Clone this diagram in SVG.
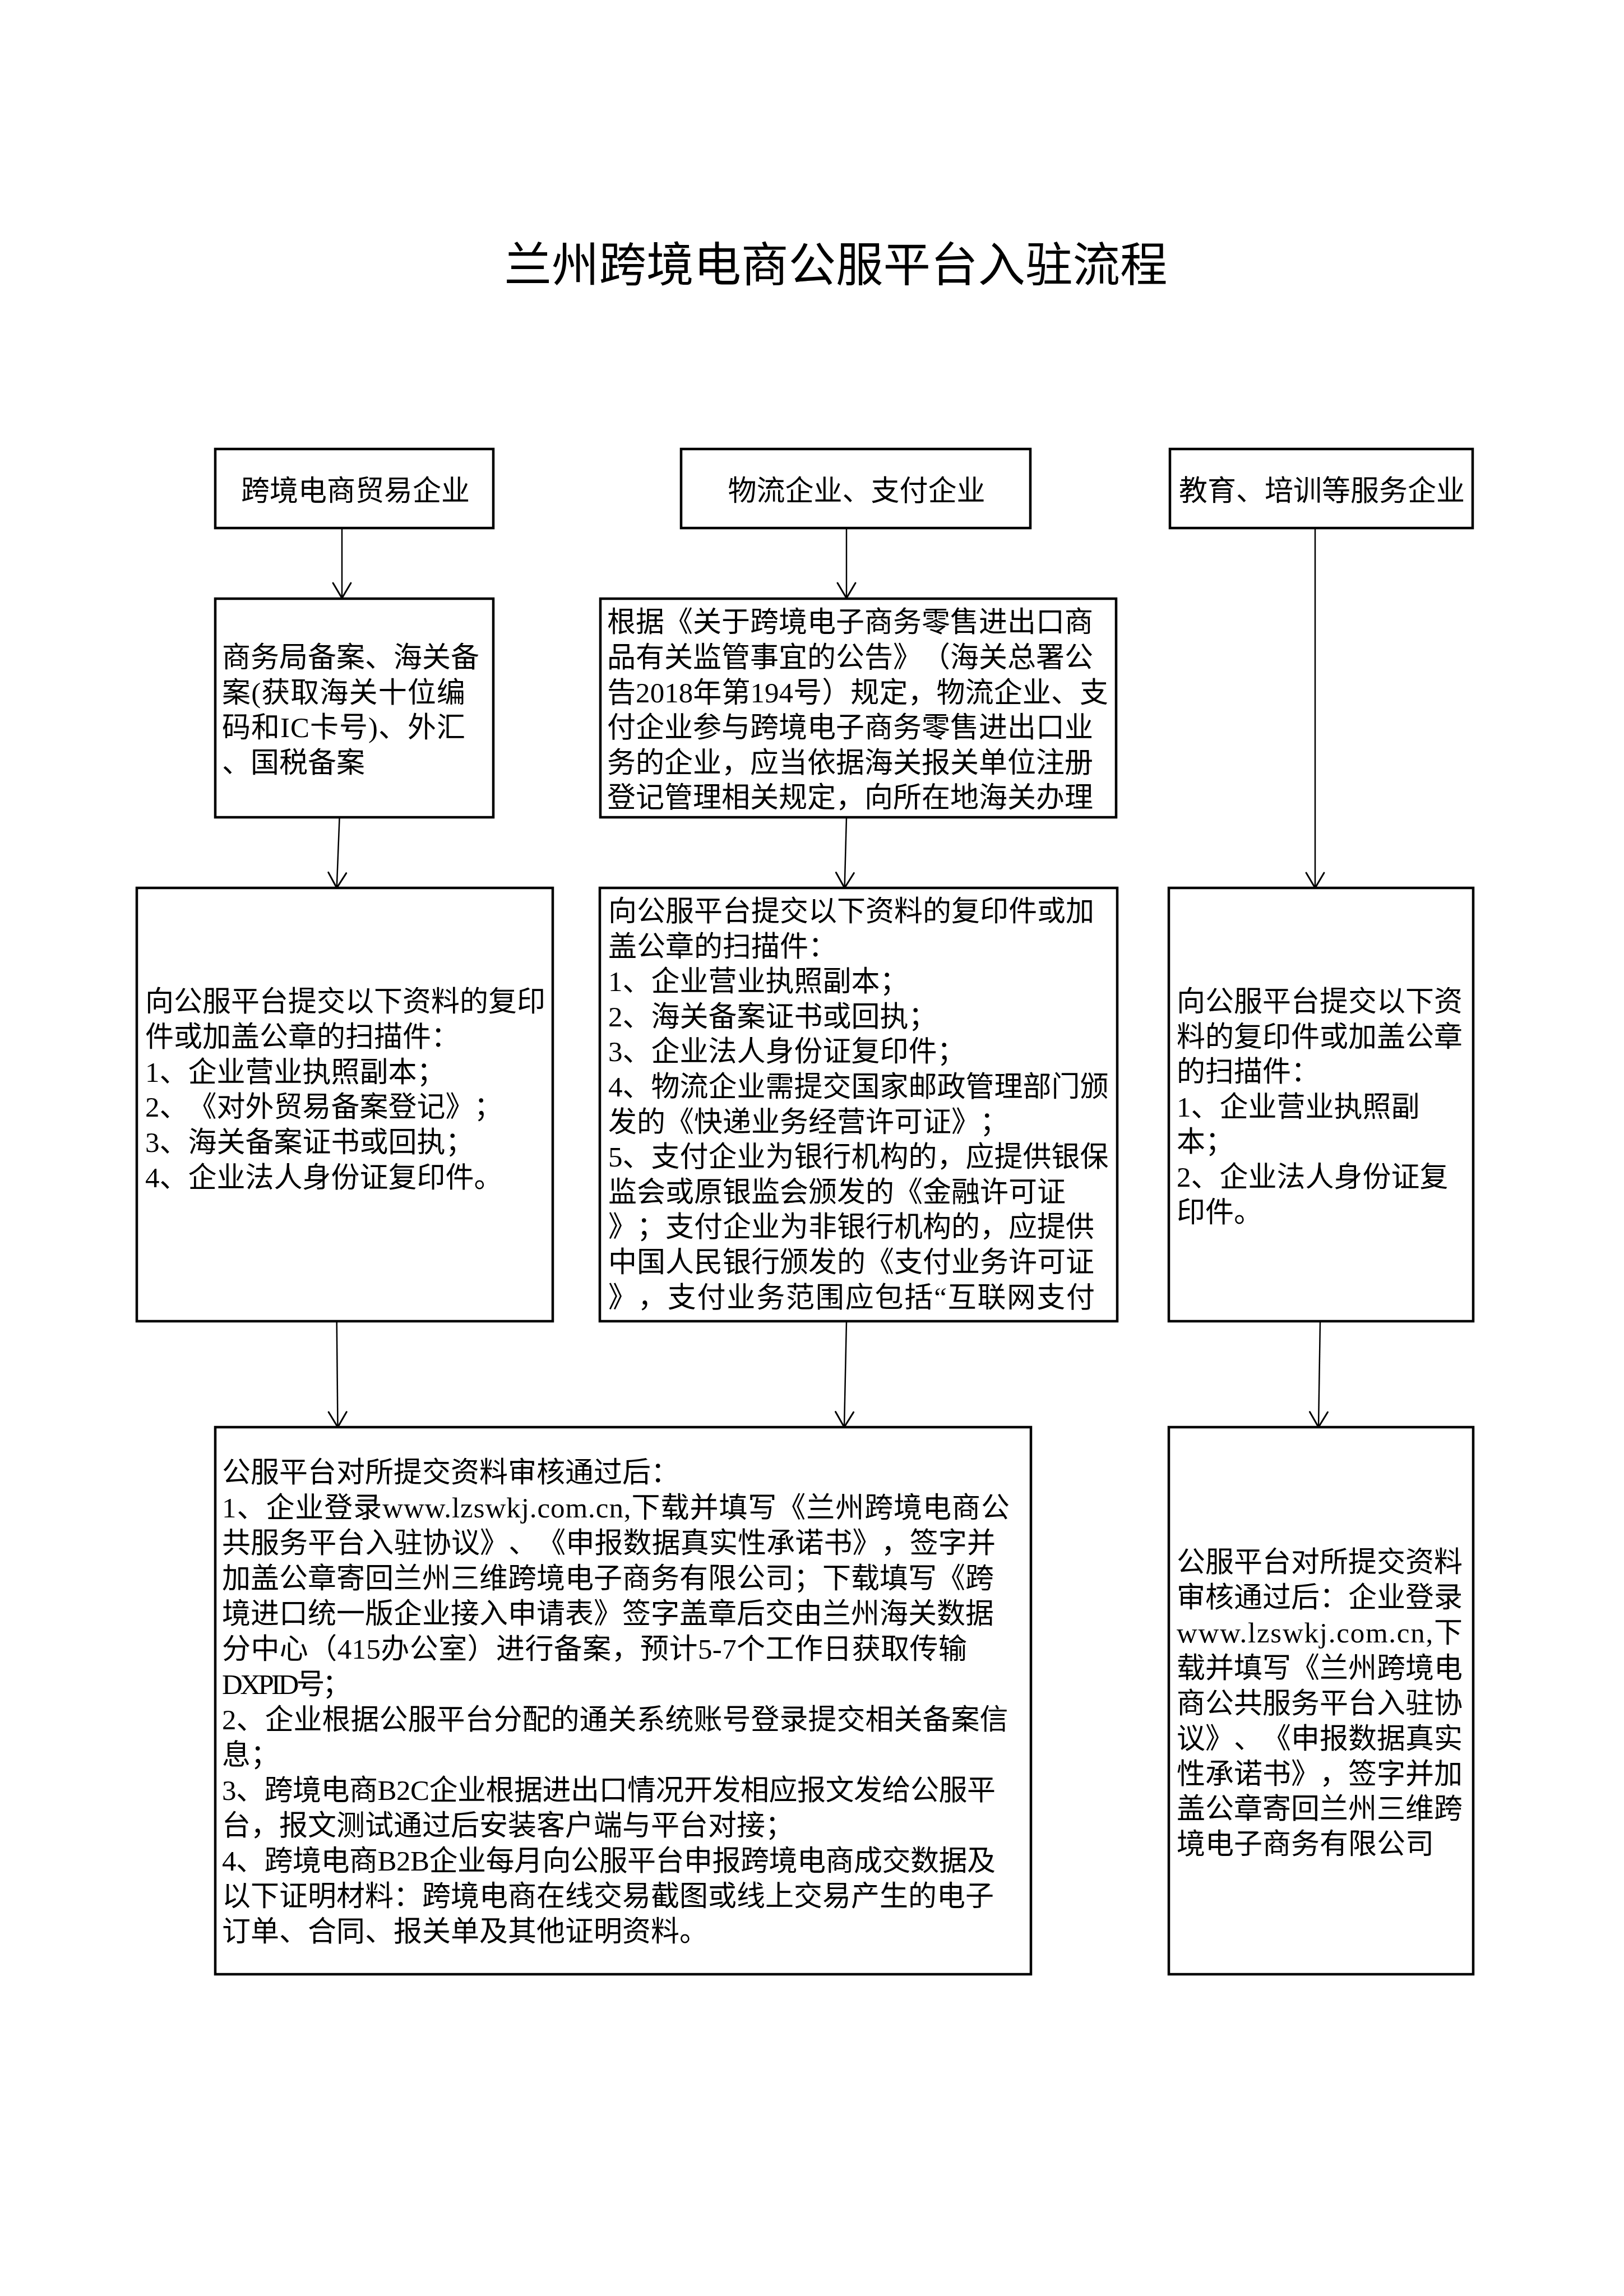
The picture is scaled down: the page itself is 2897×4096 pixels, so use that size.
<svg xmlns="http://www.w3.org/2000/svg" width="2897" height="4096" viewBox="0 0 2897 4096">
<style>
.box{fill:#fff;stroke:#000;stroke-width:4.5}
.t{font-family:'Liberation Serif','Noto Sans CJK SC',serif;font-size:51px;fill:#000;text-spacing-trim:space-all}
.c{text-anchor:middle}
.title{font-family:'Liberation Serif','Noto Sans CJK SC',serif;font-size:84.5px;fill:#000;text-anchor:middle;text-spacing-trim:space-all}
.conn{stroke:#000;stroke-width:2.5;fill:none;marker-end:url(#arr)}
</style>
<defs>
<marker id="arr" markerUnits="userSpaceOnUse" markerWidth="40" markerHeight="40" viewBox="-30 -20 40 40" refX="0" refY="0" orient="auto" overflow="visible">
<path d="M -27 -16 L 0 0 L -27 16" fill="none" stroke="#000" stroke-width="3" stroke-linecap="round"/>
</marker>
</defs>
<rect width="2897" height="4096" fill="#fff"/>
<text class="title" x="1491" y="502">兰州跨境电商公服平台入驻流程</text>

<g id="connectors">
<line class="conn" x1="610" y1="942" x2="610" y2="1067"/>
<line class="conn" x1="1510" y1="942" x2="1510" y2="1067"/>
<line class="conn" x1="2346" y1="942" x2="2346" y2="1584"/>
<line class="conn" x1="605.6" y1="1458" x2="600.7" y2="1584"/>
<line class="conn" x1="1510" y1="1458" x2="1506.6" y2="1584"/>
<line class="conn" x1="600.7" y1="2357" x2="602.5" y2="2546"/>
<line class="conn" x1="1510" y1="2357" x2="1506" y2="2546"/>
<line class="conn" x1="2355" y1="2357" x2="2352" y2="2546"/>
</g>

<g id="n-trade">
<rect class="box" x="384" y="801" width="496" height="141"/>
<text class="t c" x="634" y="893">跨境电商贸易企业</text>
</g>
<g id="n-logistics">
<rect class="box" x="1215" y="801" width="623" height="141"/>
<text class="t c" x="1528" y="893">物流企业、支付企业</text>
</g>
<g id="n-edu">
<rect class="box" x="2087" y="801" width="540" height="141"/>
<text class="t c" x="2358" y="893">教育、培训等服务企业</text>
</g>

<g id="n-record">
<rect class="box" x="384" y="1068" width="496" height="390"/>
<text class="t" x="396" y="1190">商务局备案、海关备</text>
<text class="t" x="396" y="1253" textLength="434" lengthAdjust="spacing">案(获取海关十位编</text>
<text class="t" x="396" y="1315" textLength="434" lengthAdjust="spacing">码和IC卡号)、外汇</text>
<text class="t" x="396" y="1378">、国税备案</text>
</g>

<g id="n-announce">
<rect class="box" x="1071" y="1068" width="920" height="390"/>
<text class="t" x="1083" y="1127">根据《关于跨境电子商务零售进出口商</text>
<text class="t" x="1083" y="1190">品有关监管事宜的公告》（海关总署公</text>
<text class="t" x="1083" y="1253" textLength="894" lengthAdjust="spacing">告2018年第194号）规定，物流企业、支</text>
<text class="t" x="1083" y="1315">付企业参与跨境电子商务零售进出口业</text>
<text class="t" x="1083" y="1378">务的企业，应当依据海关报关单位注册</text>
<text class="t" x="1083" y="1440">登记管理相关规定，向所在地海关办理</text>
</g>

<g id="n-submit-trade">
<rect class="box" x="244" y="1584" width="742" height="773"/>
<text class="t" x="259" y="1804">向公服平台提交以下资料的复印</text>
<text class="t" x="259" y="1867">件或加盖公章的扫描件：</text>
<text class="t" x="259" y="1930">1、企业营业执照副本；</text>
<text class="t" x="259" y="1992">2、《对外贸易备案登记》；</text>
<text class="t" x="259" y="2055">3、海关备案证书或回执；</text>
<text class="t" x="259" y="2118">4、企业法人身份证复印件。</text>
</g>

<g id="n-submit-logistics">
<rect class="box" x="1070" y="1584" width="923" height="773"/>
<text class="t" x="1085" y="1643">向公服平台提交以下资料的复印件或加</text>
<text class="t" x="1085" y="1706">盖公章的扫描件：</text>
<text class="t" x="1085" y="1768">1、企业营业执照副本；</text>
<text class="t" x="1085" y="1831">2、海关备案证书或回执；</text>
<text class="t" x="1085" y="1893">3、企业法人身份证复印件；</text>
<text class="t" x="1085" y="1956">4、物流企业需提交国家邮政管理部门颁</text>
<text class="t" x="1085" y="2019">发的《快递业务经营许可证》；</text>
<text class="t" x="1085" y="2081">5、支付企业为银行机构的，应提供银保</text>
<text class="t" x="1085" y="2144">监会或原银监会颁发的《金融许可证</text>
<text class="t" x="1085" y="2206">》；支付企业为非银行机构的，应提供</text>
<text class="t" x="1085" y="2269">中国人民银行颁发的《支付业务许可证</text>
<text class="t" x="1085" y="2332" textLength="868" lengthAdjust="spacing">》，支付业务范围应包括“互联网支付</text>
</g>

<g id="n-submit-edu">
<rect class="box" x="2085" y="1584" width="543" height="773"/>
<text class="t" x="2099" y="1804">向公服平台提交以下资</text>
<text class="t" x="2099" y="1867">料的复印件或加盖公章</text>
<text class="t" x="2099" y="1929">的扫描件：</text>
<text class="t" x="2099" y="1992">1、企业营业执照副</text>
<text class="t" x="2099" y="2054">本；</text>
<text class="t" x="2099" y="2117">2、企业法人身份证复</text>
<text class="t" x="2099" y="2180">印件。</text>
</g>

<g id="n-approve-main">
<rect class="box" x="384" y="2546" width="1455" height="976"/>
<text class="t" x="396" y="2644">公服平台对所提交资料审核通过后：</text>
<text class="t" x="396" y="2707" textLength="1405" lengthAdjust="spacing">1、企业登录www.lzswkj.com.cn,下载并填写《兰州跨境电商公</text>
<text class="t" x="396" y="2770" textLength="1380" lengthAdjust="spacing">共服务平台入驻协议》、《申报数据真实性承诺书》，签字并</text>
<text class="t" x="396" y="2833">加盖公章寄回兰州三维跨境电子商务有限公司；下载填写《跨</text>
<text class="t" x="396" y="2896">境进口统一版企业接入申请表》签字盖章后交由兰州海关数据</text>
<text class="t" x="396" y="2959" textLength="1329" lengthAdjust="spacing">分中心（415办公室）进行备案，预计5-7个工作日获取传输</text>
<text class="t" x="396" y="3022" textLength="230" lengthAdjust="spacing">DXPID号；</text>
<text class="t" x="396" y="3085">2、企业根据公服平台分配的通关系统账号登录提交相关备案信</text>
<text class="t" x="396" y="3148">息；</text>
<text class="t" x="396" y="3211" textLength="1380" lengthAdjust="spacing">3、跨境电商B2C企业根据进出口情况开发相应报文发给公服平</text>
<text class="t" x="396" y="3274">台，报文测试通过后安装客户端与平台对接；</text>
<text class="t" x="396" y="3337" textLength="1380" lengthAdjust="spacing">4、跨境电商B2B企业每月向公服平台申报跨境电商成交数据及</text>
<text class="t" x="396" y="3400">以下证明材料：跨境电商在线交易截图或线上交易产生的电子</text>
<text class="t" x="396" y="3463">订单、合同、报关单及其他证明资料。</text>
</g>

<g id="n-approve-edu">
<rect class="box" x="2085" y="2546" width="543" height="976"/>
<text class="t" x="2099" y="2804" textLength="510" lengthAdjust="spacing">公服平台对所提交资料</text>
<text class="t" x="2099" y="2867" textLength="510" lengthAdjust="spacing">审核通过后：企业登录</text>
<text class="t" x="2099" y="2930" textLength="510" lengthAdjust="spacing">www.lzswkj.com.cn,下</text>
<text class="t" x="2099" y="2993" textLength="510" lengthAdjust="spacing">载并填写《兰州跨境电</text>
<text class="t" x="2099" y="3056" textLength="510" lengthAdjust="spacing">商公共服务平台入驻协</text>
<text class="t" x="2099" y="3119" textLength="510" lengthAdjust="spacing">议》、《申报数据真实</text>
<text class="t" x="2099" y="3182" textLength="510" lengthAdjust="spacing">性承诺书》，签字并加</text>
<text class="t" x="2099" y="3244" textLength="510" lengthAdjust="spacing">盖公章寄回兰州三维跨</text>
<text class="t" x="2099" y="3307">境电子商务有限公司</text>
</g>
</svg>
